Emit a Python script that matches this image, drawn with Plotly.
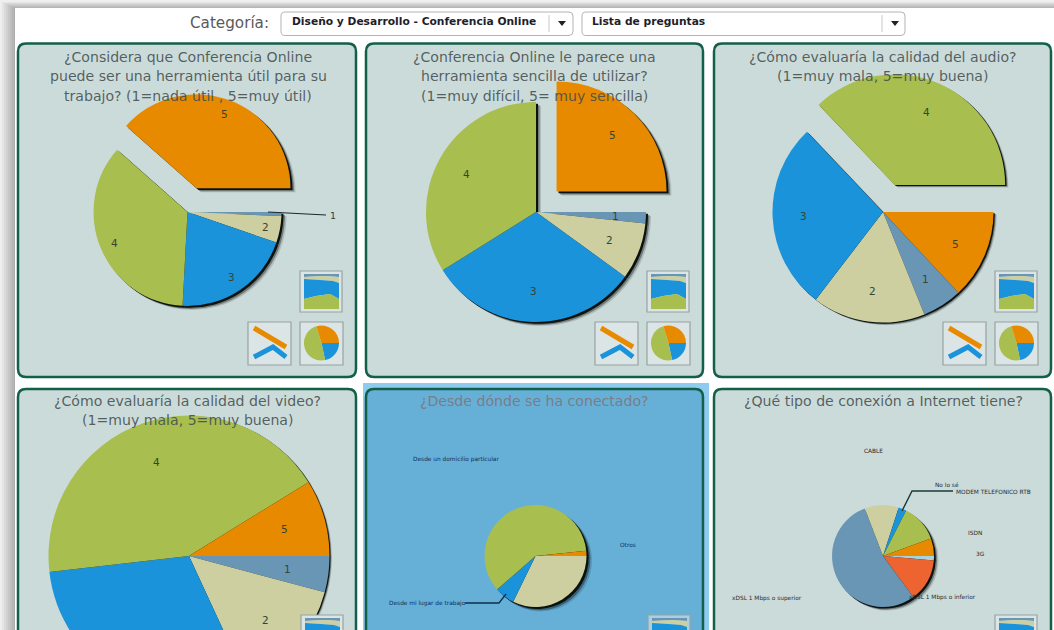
import numpy as np
import plotly.graph_objects as go

W, H = 1054, 800

# ---------- data (slice sizes, clockwise from 3 o'clock) ----------
q1_labels = ["1", "2", "3", "4", "5"]
q1_values = [2.5, 16.5, 74, 128.5, 138.5]
q2_labels = ["1", "2", "3", "4", "5"]
q2_values = [6, 30, 112, 122, 90]
q3_labels = ["5", "1", "2", "3", "4"]
q3_values = [47, 21, 59.5, 99, 133.5]
q4_labels = ["1", "2", "3", "4", "5"]
q4_values = [15, 50.2, 108.3, 154.8, 31.7]
q5_labels = ["Sin rótulo", "Desde mi lugar de trabajo", "Desde un domicilio particular", "Otros"]
q5_values = [116, 23, 215, 6]
q6_labels = ["3G", "xDSL 1 Mbps o inferior", "xDSL 1 Mbps o superior", "CABLE",
             "MODEM TELEFONICO RTB", "No lo sé", "ISDN"]
q6_values = [5, 48.6, 195.4, 39, 9, 43, 20]
icon_labels = ["3", "4", "5"]
icon_values = [78, 175, 107]

C1, C2, C3, C4, C5 = "#6A96B6", "#CECFA1", "#1B93DA", "#A8BE4E", "#E78A00"
RED, SKY = "#EE6430", "#A6D3DF"
COL = {"1": C1, "2": C2, "3": C3, "4": C4, "5": C5}

titles = [
    ["¿Considera que Conferencia Online", "puede ser una herramienta útil para su", "trabajo? (1=nada útil , 5=muy útil)"],
    ["¿Conferencia Online le parece una", "herramienta sencilla de utilizar?", "(1=muy difícil, 5= muy sencilla)"],
    ["¿Cómo evaluaría la calidad del audio?", "(1=muy mala, 5=muy buena)"],
    ["¿Cómo evaluaría la calidad del video?", "(1=muy mala, 5=muy buena)"],
    ["¿Desde dónde se ha conectado?"],
    ["¿Qué tipo de conexión a Internet tiene?"],
]

# layout: cx, cy, r, pulled label, pull, radial label position, shadow strength
pies = [
    dict(lab=q1_labels, val=q1_values, col=[COL[k] for k in q1_labels], cx=187.5, cy=212, r=94, pull="5", amt=0.27, lr=0.84, skip=["1"], sh=1.0),
    dict(lab=q2_labels, val=q2_values, col=[COL[k] for k in q2_labels], cx=536, cy=212, r=110, pull="5", amt=0.264, lr=0.72, skip=[], sh=1.0),
    dict(lab=q3_labels, val=q3_values, col=[COL[k] for k in q3_labels], cx=883, cy=212, r=110.5, pull="4", amt=0.267, lr=0.72, skip=[], sh=0.65),
    dict(lab=q4_labels, val=q4_values, col=[COL[k] for k in q4_labels], cx=189, cy=556, r=140.5, pull=None, amt=0, lr=0.71, skip=["3"], sh=0.5),
    dict(lab=q5_labels, val=q5_values, col=[C2, C3, C4, C5], cx=535.5, cy=556, r=51, pull=None, amt=0, lr=0, skip=q5_labels, sh=1.1),
    dict(lab=q6_labels, val=q6_values, col=[SKY, RED, C1, C2, C3, C4, C5], cx=883, cy=556, r=51, pull=None, amt=0, lr=0, skip=q6_labels, sh=0.9),
]

px = lambda x: x / W
py = lambda y: 1 - y / H


def pts(points, close=True):
    s = "M" + " L".join(f"{px(x):.5f},{py(y):.5f}" for x, y in points)
    return s + (" Z" if close else "")


def rrect(x0, y0, x1, y1, r):
    X = lambda v: f"{px(v):.5f}"
    Y = lambda v: f"{py(v):.5f}"
    return (f"M{X(x0+r)},{Y(y0)} L{X(x1-r)},{Y(y0)} Q{X(x1)},{Y(y0)} {X(x1)},{Y(y0+r)} "
            f"L{X(x1)},{Y(y1-r)} Q{X(x1)},{Y(y1)} {X(x1-r)},{Y(y1)} "
            f"L{X(x0+r)},{Y(y1)} Q{X(x0)},{Y(y1)} {X(x0)},{Y(y1-r)} "
            f"L{X(x0)},{Y(y0+r)} Q{X(x0)},{Y(y0)} {X(x0+r)},{Y(y0)} Z")


shapes, annos, traces = [], [], []


def path(d, fill=None, line=None, lw=0, layer="below"):
    shapes.append(dict(type="path", path=d, xref="paper", yref="paper", layer=layer,
                       fillcolor=fill if fill else "rgba(0,0,0,0)",
                       line=dict(color=line if line else "rgba(0,0,0,0)", width=lw)))


def text(x, y, s, size=12, color="#555", anchor="center", bold=False, family="DejaVu Sans"):
    annos.append(dict(x=px(x), y=py(y), xref="paper", yref="paper", text=f"<b>{s}</b>" if bold else s,
                      showarrow=False, xanchor=anchor, yanchor="middle",
                      font=dict(size=size, color=color, family=family)))


# ---------- page backdrop ----------
path(pts([(0, 0), (W, 0), (W, H), (0, H)]), fill="#EFEFEF")
for i in range(7):
    path(pts([(14 - 2 * i, 8 - i), (W, 8 - i), (W, H), (14 - 2 * i, H)]), fill="rgba(0,0,0,0.042)")
path(pts([(15, 8), (W, 8), (W, H), (15, H)]), fill="#FFFFFF")

# ---------- header ----------
text(229.5, 23, "Categoría:", size=15.2, color="#5A5A5A")
for x0, x1, sep, label, tx in [(281, 573, 549, "Diseño y Desarrollo - Conferencia Online", 289.5),
                               (582, 905, 882, "Lista de preguntas", 589.5)]:
    path(rrect(x0, 12, x1, 35.5, 4), fill="#FFFFFF", line="#B4B4B4", lw=1)
    path(pts([(sep, 15), (sep, 32)], close=False), line="#C8C8C8", lw=1)
    path(pts([(sep + 9, 21), (sep + 17, 21), (sep + 13, 26)]), fill="#222222")
    text(tx, 22, label, size=10.7, color="#1E1E2A", anchor="left", bold=True)

# ---------- panels ----------
frames = [(18, 43.5, 356, 377), (366, 43.5, 703, 377), (714, 43.5, 1051, 377),
          (18, 389, 356, 760), (366, 389, 703, 760), (714, 389, 1051, 760)]
path(pts([(363, 383), (709, 383), (709, H), (363, H)]), fill="#8FCBEE")
for i, (x0, y0, x1, y1) in enumerate(frames):
    path(rrect(x0, y0, x1, y1, 8), fill="#66B0D8" if i == 4 else "#CBDBDA", line="#12604A", lw=2.5)


# ---------- pies ----------
def add_pie(lab, val, col, cx, cy, half, pull=None, opacity=1.0, skip=True):
    traces.append(go.Pie(labels=lab, values=val, sort=False, direction="clockwise", rotation=90,
                         marker=dict(colors=col, line=dict(width=0)), pull=pull, textinfo="none",
                         hoverinfo="skip" if skip else "label+percent", showlegend=False, opacity=opacity,
                         domain=dict(x=[px(cx - half), px(cx + half)], y=[py(cy + half), py(cy - half)])))


for p in pies:
    pull = [p["amt"] if k == p["pull"] else 0 for k in p["lab"]]
    half = p["r"] * (1 + p["amt"])
    s = p["sh"]
    black = ["#000000"] * len(p["val"])
    add_pie(p["lab"], p["val"], black, p["cx"] + 5 * s, p["cy"] + 4 * s, half, pull, 0.14)
    add_pie(p["lab"], p["val"], black, p["cx"] + 3.5 * s, p["cy"] + 3 * s, half, pull, 0.35)
    add_pie(p["lab"], p["val"], ["#0A120E"] * len(p["val"]), p["cx"] + 2 * s, p["cy"] + 1.8 * s, half, pull, 1.0)
    add_pie(p["lab"], p["val"], p["col"], p["cx"], p["cy"], half, pull, 1.0, skip=False)
    # slice captions placed at the middle angle of each slice
    total = sum(p["val"])
    edges = np.cumsum([0] + p["val"]) / total * 360
    for k, a0, a1 in zip(p["lab"], edges[:-1], edges[1:]):
        if k in p["skip"]:
            continue
        mid = np.radians((a0 + a1) / 2)
        off = p["amt"] * p["r"] if k == p["pull"] else 0
        rad = p["lr"] * p["r"] + off
        text(p["cx"] + rad * np.cos(mid), p["cy"] + rad * np.sin(mid), k, size=10.5, color="#37452F")

# ---------- titles (over the pies, as in the picture) ----------
tcx = [188, 534.5, 882.5, 187.5, 534.5, 883]
tcy = [57, 57, 57, 401, 401, 401]
for i, lines in enumerate(titles):
    col = "#7C7C86" if i == 4 else "rgba(68,78,78,0.88)"
    for j, ln in enumerate(lines):
        text(tcx[i], tcy[i] + 19.3 * j, ln, size=14.1, color=col)

# ---------- outside captions and leaders ----------
text(333, 215.5, "1", size=9.5, color="#33413A")
path(pts([(268, 212), (326, 215)], close=False), line="#1A2A2A", lw=1.2, layer="above")

S = 5.85
text(411, 460, "Desde un domicilio particular", size=S, color="#0F2F5A", anchor="left")
text(618, 545, "Otros", size=S, color="#0F2F5A", anchor="left")
text(387, 603, "Desde mi lugar de trabajo", size=S, color="#0F2F5A", anchor="left")
path(pts([(465, 603), (499, 603), (506, 594)], close=False), line="#0E2E4E", lw=1.3, layer="above")

text(862, 451, "CABLE", size=S, color="#2A2A2A", anchor="left")
text(933, 485, "No lo sé", size=S, color="#2A2A2A", anchor="left")
text(954, 491.5, "MODEM TELEFONICO RTB", size=S, color="#2A2A2A", anchor="left")
text(966, 533, "ISDN", size=S, color="#2A2A2A", anchor="left")
text(974, 554, "3G", size=S, color="#2A2A2A", anchor="left")
text(730, 598, "xDSL 1 Mbps o superior", size=S, color="#2A2A2A", anchor="left")
text(907, 597, "xDSL 1 Mbps o inferior", size=S, color="#2A2A2A", anchor="left")
path(pts([(953, 491), (912, 491), (902, 511)], close=False), line="#1A3A3A", lw=1.4, layer="above")

# ---------- thumbnails ----------
area_bands = [
    ("#6A96B6", [(4, 3), (39, 3), (39, 6), (24, 5), (4, 6)]),
    ("#CECFA1", [(4, 6), (24, 5), (39, 6), (39, 12), (33, 10), (20, 9), (4, 8)]),
    ("#1B93DA", [(4, 8), (20, 9), (33, 10), (39, 12), (39, 28), (30, 23), (16, 25), (4, 28)]),
    ("#A8BE4E", [(4, 28), (16, 25), (30, 23), (39, 28), (39, 38), (4, 38)]),
]
for i, (ix, iy) in enumerate([(300, 271), (647, 271), (995, 271), (301, 615), (648, 615), (995, 615)]):
    bg = "#A9CFE3" if i == 4 else "#DCE5E5"
    path(pts([(ix, iy), (ix + 42, iy), (ix + 42, iy + 41), (ix, iy + 41)]), fill=bg, line="#98A2A2", lw=1.2, layer="above")
    for c, band in area_bands:
        path(pts([(ix + a, iy + b) for a, b in band]), fill=c, layer="above")
    if i < 3:
        lx, ly = ix - 52, iy + 51
        path(pts([(lx, ly), (lx + 43, ly), (lx + 43, ly + 43), (lx, ly + 43)]), fill="#DCE5E5", line="#98A2A2", lw=1.2, layer="above")
        path(pts([(lx + 6, ly + 6), (lx + 38, ly + 25)], close=False), line=C5, lw=5, layer="above")
        path(pts([(lx + 6, ly + 35), (lx + 25, ly + 25), (lx + 38, ly + 35)], close=False), line=C3, lw=5, layer="above")
        qx, qy = ix, iy + 51
        path(pts([(qx, qy), (qx + 43, qy), (qx + 43, qy + 43), (qx, qy + 43)]), fill="#DCE5E5", line="#98A2A2", lw=1.2)
        add_pie(icon_labels, icon_values, [C3, C4, C5], qx + 21.5, qy + 21, 17.5, skip=False)

fig = go.Figure(traces)
fig.update_layout(width=W, height=H, margin=dict(l=0, r=0, t=0, b=0), paper_bgcolor="#FFFFFF",
                  plot_bgcolor="#FFFFFF", shapes=shapes, annotations=annos, showlegend=False,
                  font=dict(family="DejaVu Sans"))
fig.write_html("out.html", config=dict(displayModeBar=False),
               post_script="document.body.style.margin='0';document.body.style.overflow='hidden';"
                           "document.documentElement.style.overflow='hidden';")
